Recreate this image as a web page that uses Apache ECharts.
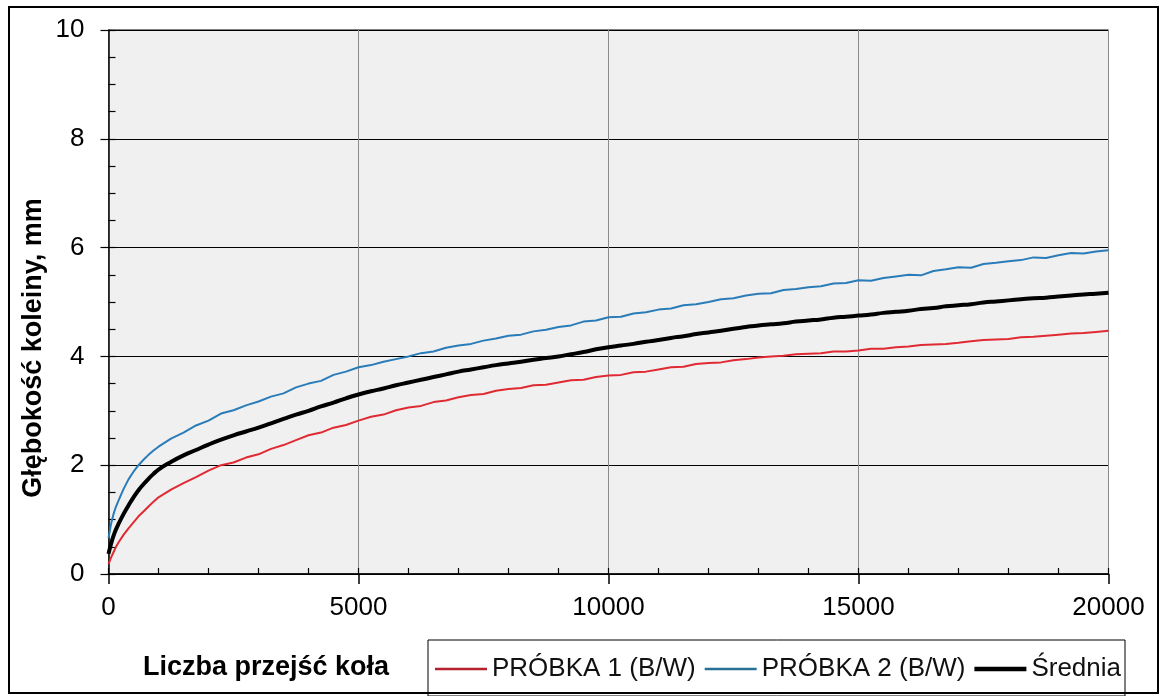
<!DOCTYPE html>
<html>
<head>
<meta charset="utf-8">
<title>Głębokość koleiny</title>
<script src="https://cdn.jsdelivr.net/npm/echarts@6/dist/echarts.min.js"></script>
<style>
  html, body { margin: 0; padding: 0; background: #fff; }
  #chart { width: 1160px; height: 696px; }
</style>
</head>
<body>
<div id="chart"></div>
<script>
// Number of wheel passes (x) shared by all three series
const passes = [
  0, 50, 100, 150, 200, 300, 400, 500, 600, 700, 800, 900,
  1000, 1250, 1500, 1750,
  2000, 2250, 2500, 2750,
  3000, 3250, 3500, 3750,
  4000, 4250, 4500, 4750,
  5000, 5250, 5500, 5750,
  6000, 6250, 6500, 6750,
  7000, 7250, 7500, 7750,
  8000, 8250, 8500, 8750,
  9000, 9250, 9500, 9750,
  10000, 10250, 10500, 10750,
  11000, 11250, 11500, 11750,
  12000, 12250, 12500, 12750,
  13000, 13250, 13500, 13750,
  14000, 14250, 14500, 14750,
  15000, 15250, 15500, 15750,
  16000, 16250, 16500, 16750,
  17000, 17250, 17500, 17750,
  18000, 18250, 18500, 18750,
  19000, 19250, 19500, 19750,
  20000
];

// Rut depth, mm — sample 1
const probka1 = [
  0.18, 0.30, 0.40, 0.50, 0.58, 0.72, 0.84, 0.95, 1.06, 1.15, 1.24, 1.33,
  1.41, 1.55, 1.67, 1.78,
  1.90, 2.00, 2.05, 2.14,
  2.20, 2.30, 2.37, 2.46,
  2.55, 2.60, 2.69, 2.74,
  2.82, 2.89, 2.93, 3.01,
  3.06, 3.09, 3.16, 3.19,
  3.25, 3.29, 3.31, 3.37,
  3.40, 3.42, 3.47, 3.48,
  3.52, 3.56, 3.57, 3.62,
  3.65, 3.66, 3.71, 3.72,
  3.76, 3.80, 3.81, 3.86,
  3.88, 3.89, 3.93, 3.95,
  3.98, 4.00, 4.01, 4.04,
  4.05, 4.06, 4.09, 4.09,
  4.11, 4.14, 4.14, 4.17,
  4.18, 4.21, 4.22, 4.23,
  4.25, 4.28, 4.30, 4.31,
  4.32, 4.35, 4.36, 4.38,
  4.40, 4.42, 4.43, 4.45,
  4.47
];

// Rut depth, mm — sample 2
const probka2 = [
  0.66, 0.92, 1.10, 1.24, 1.35, 1.56, 1.74, 1.88, 2.00, 2.10, 2.19, 2.27,
  2.34, 2.49, 2.60, 2.73,
  2.82, 2.95, 3.01, 3.10,
  3.17, 3.26, 3.32, 3.43,
  3.50, 3.55, 3.66, 3.72,
  3.80, 3.84, 3.90, 3.95,
  4.00, 4.06, 4.09, 4.16,
  4.20, 4.23, 4.29, 4.33,
  4.38, 4.40, 4.46, 4.49,
  4.54, 4.57, 4.64, 4.66,
  4.72, 4.73, 4.79, 4.81,
  4.86, 4.88, 4.94, 4.96,
  5.00, 5.05, 5.07, 5.12,
  5.15, 5.16, 5.22, 5.24,
  5.27, 5.29, 5.34, 5.35,
  5.40, 5.39, 5.44, 5.47,
  5.50, 5.49, 5.57, 5.60,
  5.64, 5.63, 5.70, 5.72,
  5.75, 5.77, 5.82, 5.81,
  5.86, 5.90, 5.89, 5.93,
  5.95
];

// Rut depth, mm — mean of both samples
const srednia = [
  0.37, 0.55, 0.70, 0.82, 0.92, 1.10, 1.26, 1.41, 1.54, 1.65, 1.75, 1.84,
  1.92, 2.06, 2.18, 2.28,
  2.38, 2.47, 2.55, 2.62,
  2.69, 2.77, 2.85, 2.93,
  3.00, 3.08, 3.15, 3.23,
  3.30, 3.36, 3.41, 3.47,
  3.52, 3.57, 3.62, 3.67,
  3.72, 3.76, 3.80, 3.84,
  3.87, 3.90, 3.94, 3.97,
  4.00, 4.04, 4.08, 4.13,
  4.17, 4.20, 4.23, 4.27,
  4.30, 4.34, 4.37, 4.41,
  4.44, 4.47, 4.51, 4.54,
  4.57, 4.59, 4.61, 4.64,
  4.66, 4.68, 4.71, 4.73,
  4.75, 4.77, 4.80, 4.82,
  4.84, 4.87, 4.89, 4.92,
  4.94, 4.96, 4.99, 5.01,
  5.03, 5.05, 5.07, 5.08,
  5.10, 5.12, 5.14, 5.15,
  5.17
];

const seriesNames = ['PRÓBKA 1 (B/W)', 'PRÓBKA 2 (B/W)', 'Średnia'];
const xTitle = 'Liczba przejść koła';
const yTitle = 'Głębokość koleiny, mm';

const FONT = '"Liberation Sans", Arial, sans-serif';
const pairs = (ys) => passes.map((x, i) => [x, ys[i]]);

const chart = echarts.init(document.getElementById('chart'), null, { renderer: 'canvas' });

chart.setOption({
  animation: false,
  backgroundColor: '#ffffff',
  grid: {
    left: 108.5, top: 30, width: 1000, height: 544,
    show: true, backgroundColor: '#f0f0f0',
    borderColor: '#000', borderWidth: 1
  },
  xAxis: [
    {
      type: 'value', min: 0, max: 20000, interval: 5000,
      axisLine: { show: true, onZero: false, lineStyle: { color: '#000', width: 1.5 } },
      axisTick: { show: true, inside: false, length: 10, lineStyle: { color: '#000', width: 1.5 } },
      axisLabel: {
        color: '#000', fontSize: 26, fontFamily: FONT, margin: 21,
        formatter: (v) => String(v)
      },
      splitLine: { show: true, lineStyle: { color: '#8a8a8a', width: 1 } },
      minorTick: { show: false }
    },
    {
      // inner minor ticks every 1000 passes
      type: 'value', min: 0, max: 20000, interval: 1000, position: 'bottom', offset: 0,
      axisLine: { show: false },
      axisTick: { show: true, inside: true, length: 6, lineStyle: { color: '#000', width: 1.2 } },
      axisLabel: { show: false },
      splitLine: { show: false }
    }
  ],
  yAxis: [
    {
      type: 'value', min: 0, max: 10, interval: 2,
      axisLine: { show: true, onZero: false, lineStyle: { color: '#000', width: 1.5 } },
      axisTick: { show: true, inside: false, length: 8, lineStyle: { color: '#000', width: 1.2 } },
      axisLabel: { color: '#000', fontSize: 26, fontFamily: FONT, margin: 24 },
      splitLine: { show: true, lineStyle: { color: '#000', width: 1 } }
    },
    {
      // inner minor ticks every 0.5 mm
      type: 'value', min: 0, max: 10, interval: 0.5, position: 'left', offset: 0,
      axisLine: { show: false },
      axisTick: { show: true, inside: true, length: 7, lineStyle: { color: '#000', width: 1.2 } },
      axisLabel: { show: false },
      splitLine: { show: false }
    }
  ],
  legend: {
    left: 428, top: 640,
    padding: [16, 4, 14, 7],
    itemGap: 9,
    itemWidth: 52, itemHeight: 14,
    backgroundColor: '#fff',
    borderColor: '#000', borderWidth: 1,
    textStyle: { color: '#111', fontSize: 26, fontFamily: FONT },
    data: [
      { name: seriesNames[0], icon: 'path://M0,0h52v2.5h-52z', itemStyle: { color: '#b5202c' } },
      { name: seriesNames[1], icon: 'path://M0,0h52v2.5h-52z', itemStyle: { color: '#2a6f95' } },
      { name: seriesNames[2], icon: 'path://M0,0h52v4.5h-52z', itemStyle: { color: '#000' } }
    ]
  },
  series: [
    {
      name: seriesNames[0], type: 'line', data: pairs(probka1),
      xAxisIndex: 0, yAxisIndex: 0,
      showSymbol: false, smooth: false,
      lineStyle: { color: '#e02a33', width: 2 }, itemStyle: { color: '#e02a33' }
    },
    {
      name: seriesNames[1], type: 'line', data: pairs(probka2),
      xAxisIndex: 0, yAxisIndex: 0,
      showSymbol: false, smooth: false,
      lineStyle: { color: '#2a7cb8', width: 2 }, itemStyle: { color: '#2a7cb8' }
    },
    {
      name: seriesNames[2], type: 'line', data: pairs(srednia),
      xAxisIndex: 0, yAxisIndex: 0,
      showSymbol: false, smooth: true,
      lineStyle: { color: '#000', width: 4 }, itemStyle: { color: '#000' }
    }
  ],
  graphic: [
    {
      type: 'text', left: 143, top: 654,
      style: { text: xTitle, fill: '#000', font: 'bold 27px ' + FONT }
    },
    {
      type: 'text', x: 34, y: 348, rotation: Math.PI / 2,
      style: {
        text: yTitle, fill: '#000', font: 'bold 27px ' + FONT,
        align: 'center', verticalAlign: 'middle'
      }
    },
    {
      type: 'rect', z: 100, silent: true,
      shape: { x: 9, y: 7, width: 1149, height: 686 },
      style: { fill: 'none', stroke: '#000', lineWidth: 2 }
    }
  ]
});
</script>
</body>
</html>
